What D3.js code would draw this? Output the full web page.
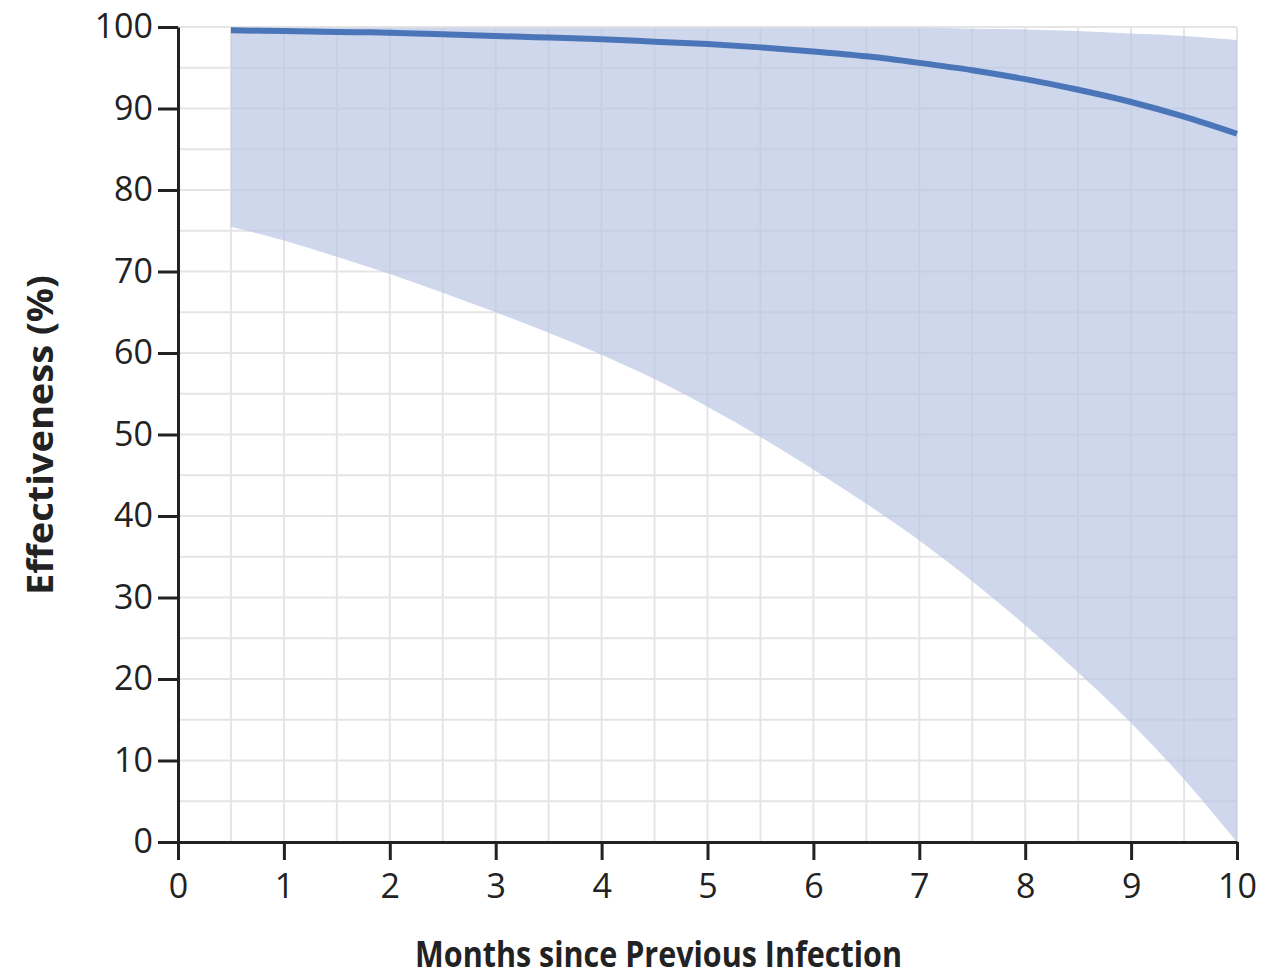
<!DOCTYPE html>
<html>
<head>
<meta charset="utf-8">
<script src="https://cdn.jsdelivr.net/npm/d3@7"></script>
<style>
  body { margin: 0; background: #fff; }
  svg { display: block; }
  text { font-family: "Open Sans", "Noto Sans", sans-serif; fill: #222; }
</style>
</head>
<body>
<svg id="chart" width="1270" height="979"></svg>
<script>
// Months since previous infection (sampled every half month)
const months = [0.5, 1, 1.5, 2, 2.5, 3, 3.5, 4, 4.5, 5, 5.5, 6, 6.5, 7, 7.5, 8, 8.5, 9, 9.5, 10];
// Estimated effectiveness (%)
const estimate = [99.6, 99.5, 99.4, 99.3, 99.1, 98.9, 98.7, 98.5, 98.2, 97.9, 97.5, 97.0, 96.4, 95.6, 94.7, 93.6, 92.3, 90.8, 89.0, 86.9];
// 95% confidence interval bounds
const lower = [75.5, 73.8, 71.8, 69.7, 67.4, 65.0, 62.5, 59.8, 56.8, 53.4, 49.7, 45.7, 41.5, 37.0, 32.0, 26.6, 20.8, 14.6, 7.7, 0.0];
const upper = [99.9, 99.9, 99.9, 99.9, 99.9, 99.9, 99.9, 99.9, 99.9, 99.9, 99.9, 99.9, 99.9, 99.9, 99.8, 99.7, 99.5, 99.2, 98.9, 98.4];
// Axis ticks
const xTicks = [0, 1, 2, 3, 4, 5, 6, 7, 8, 9, 10];
const yTicks = [0, 10, 20, 30, 40, 50, 60, 70, 80, 90, 100];
const xGrid = d3.range(0.5, 10.01, 0.5);
const yGrid = d3.range(5, 100.01, 5);

const svg = d3.select("#chart");
const x = d3.scaleLinear().domain([0, 10]).range([178, 1237]);
const y = d3.scaleLinear().domain([0, 100]).range([842, 27]);

const rows = months.map((m, i) => ({ m, est: estimate[i], lo: lower[i], hi: upper[i] }));

// Background grid
const grid = svg.append("g").attr("stroke", "#e5e5e5").attr("stroke-width", 2);
grid.selectAll("line.v").data(xGrid).join("line")
  .attr("x1", d => x(d)).attr("x2", d => x(d))
  .attr("y1", y(0)).attr("y2", y(100));
grid.selectAll("line.h").data(yGrid).join("line")
  .attr("x1", x(0)).attr("x2", x(10))
  .attr("y1", d => y(d)).attr("y2", d => y(d));

// Confidence band
svg.append("path")
  .datum(rows)
  .attr("fill", "#b9c6e4")
  .attr("fill-opacity", 0.7)
  .attr("d", d3.area()
    .x(d => x(d.m))
    .y0(d => y(d.lo))
    .y1(d => y(d.hi))
    .curve(d3.curveCatmullRom));

// Point estimate
svg.append("path")
  .datum(rows)
  .attr("fill", "none")
  .attr("stroke", "#4a76b9")
  .attr("stroke-width", 6)
  .attr("d", d3.line()
    .x(d => x(d.m))
    .y(d => y(d.est))
    .curve(d3.curveCatmullRom));

// Axes
const yAxis = svg.append("g")
  .attr("transform", `translate(${x(0)},0)`)
  .call(d3.axisLeft(y).tickValues(yTicks).tickSize(20).tickSizeOuter(0).tickPadding(5));
const xAxis = svg.append("g")
  .attr("transform", `translate(0,${y(0)})`)
  .call(d3.axisBottom(x).tickValues(xTicks).tickSize(18).tickSizeOuter(0).tickPadding(14));

[yAxis, xAxis].forEach(g => {
  g.attr("font-size", 34);
  g.select(".domain").attr("stroke", "#222").attr("stroke-width", 3);
  g.selectAll(".tick line").attr("stroke", "#222").attr("stroke-width", 3);
  g.selectAll(".tick text")
    .attr("font-size", 34)
    .attr("font-family", "'Open Sans', 'Noto Sans', sans-serif")
    .attr("fill", "#222");
});

// Axis titles
svg.append("text")
  .attr("x", 415).attr("y", 967)
  .attr("font-size", 35)
  .attr("font-weight", 700)
  .attr("textLength", 487)
  .attr("lengthAdjust", "spacingAndGlyphs")
  .text("Months since Previous Infection");

svg.append("text")
  .attr("transform", "translate(53,435) rotate(-90)")
  .attr("text-anchor", "middle")
  .attr("font-size", 35)
  .attr("font-weight", 700)
  .attr("textLength", 320)
  .attr("lengthAdjust", "spacingAndGlyphs")
  .text("Effectiveness (%)");
</script>
</body>
</html>
